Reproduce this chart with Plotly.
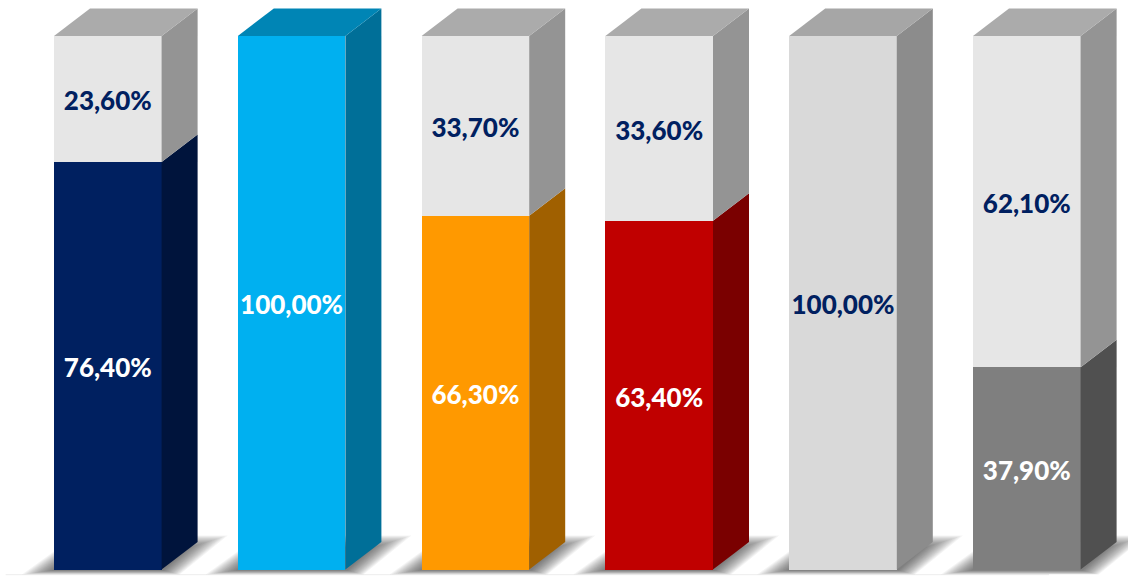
import plotly.graph_objects as go

categories = ["A", "B", "C", "D", "E", "F"]
filled = [76.4, 100.0, 66.3, 63.4, 100.0, 37.9]
rest = [23.6, 0.0, 33.7, 33.6, 0.0, 62.1]
front_colors = ["#002060", "#00B0F0", "#FF9900", "#C00000", "#D9D9D9", "#7F7F7F"]
side_colors = ["#00143C", "#006F98", "#A06000", "#7A0000", "#8C8C8C", "#505050"]
top_colors = ["#ABABAB", "#0085B5", "#ABABAB", "#ABABAB", "#A6A6A6", "#ABABAB"]
rest_front = "#E6E6E6"
rest_side = "#949494"
filled_text = ["#FFFFFF", "#FFFFFF", "#FFFFFF", "#FFFFFF", "#002060", "#FFFFFF"]
rest_text = "#002060"
FONT = "Lato"

PITCH = 183.8
W, H = 1128, 576
BOTTOM, TOP = 569.5, 36.0
PX_Y = (BOTTOM - TOP) / 100
px = lambda v: v / PITCH
py = lambda v: v / PX_Y
BAR_W = px(107.6)
DX, DY = px(36), py(27.5)

shares_f = [f / (f + r) * 100 for f, r in zip(filled, rest)]
xs = list(range(len(categories)))


def poly(x, y, color):
    return go.Scatter(x=x, y=y, mode="lines", fill="toself", fillcolor=color,
                      line=dict(width=0), hoverinfo="skip", showlegend=False)


fig = go.Figure()
fig.add_trace(go.Bar(x=xs, y=shares_f, width=BAR_W, marker=dict(color=front_colors, line=dict(width=0)),
                     hoverinfo="skip", showlegend=False))
fig.add_trace(go.Bar(x=xs, y=[100 - s for s in shares_f], width=BAR_W,
                     marker=dict(color=rest_front, line=dict(width=0)), hoverinfo="skip", showlegend=False))

for i, s in zip(xs, shares_f):
    r = i + BAR_W / 2
    l = i - BAR_W / 2
    fig.add_trace(poly([r, r + DX, r + DX, r, r], [0, DY, s + DY, s, 0], side_colors[i]))
    if s < 100:
        fig.add_trace(poly([r, r + DX, r + DX, r, r], [s, s + DY, 100 + DY, 100, s], rest_side))
    fig.add_trace(poly([l, l + DX, r + DX, r, l], [100, 100 + DY, 100 + DY, 100, 100], top_colors[i]))

# labels
lab_x, lab_y, lab_t, lab_c = [], [], [], []
fmt = lambda v: f"{v:.2f}".replace(".", ",") + "%"
for i, s in zip(xs, shares_f):
    lab_x.append(i); lab_y.append(s / 2 - py(5)); lab_t.append(fmt(filled[i])); lab_c.append(filled_text[i])
    if rest[i] > 0:
        lab_x.append(i); lab_y.append(s + (100 - s) / 2 - py(5)); lab_t.append(fmt(rest[i])); lab_c.append(rest_text)
fig.add_trace(go.Scatter(x=lab_x, y=lab_y, text=lab_t, mode="text", textposition="middle center",
                         textfont=dict(family=FONT, size=26, color=lab_c, weight=900),
                         hoverinfo="skip", showlegend=False))

# soft floor shadows, layered below the bars
shapes = [dict(type="line", xref="paper", yref="y", x0=0.005, x1=0.93, y0=py(-5.2), y1=py(-5.2),
               layer="below", line=dict(color="#EDEDED", width=1))]
LAYERS = 16
for i in xs:
    l = i - BAR_W / 2
    r = i + BAR_W / 2
    outer = [(l - px(32), py(-5)), (l + px(22), py(34)), (r + px(66), py(34)), (r + px(18), py(-5))]
    inner = [(l - px(2), py(-1)), (l + px(28), py(22)), (r + px(28), py(22)), (r + px(2), py(-1))]
    for k in range(LAYERS):
        t = k / (LAYERS - 1)
        pts = [(a[0] + (b[0] - a[0]) * t, a[1] + (b[1] - a[1]) * t) for a, b in zip(outer, inner)]
        path = "M " + " L ".join(f"{x:.4f},{y:.4f}" for x, y in pts) + " Z"
        shapes.append(dict(type="path", path=path, xref="x", yref="y", layer="below",
                           fillcolor="rgba(40,40,40,0.05)", line=dict(width=0)))

x0 = -px(107.8)
y0 = -(H - BOTTOM) / PX_Y
fig.update_layout(
    barmode="stack", width=W, height=H, margin=dict(l=0, r=0, t=0, b=0),
    paper_bgcolor="white", plot_bgcolor="white", showlegend=False, shapes=shapes,
    xaxis=dict(range=[x0, x0 + px(W)], visible=False, fixedrange=True),
    yaxis=dict(range=[y0, y0 + H / PX_Y], visible=False, fixedrange=True),
)
fig.write_html("out.html", config={"displayModeBar": False},
               post_script="document.body.style.margin='0';document.body.style.overflow='hidden';")
